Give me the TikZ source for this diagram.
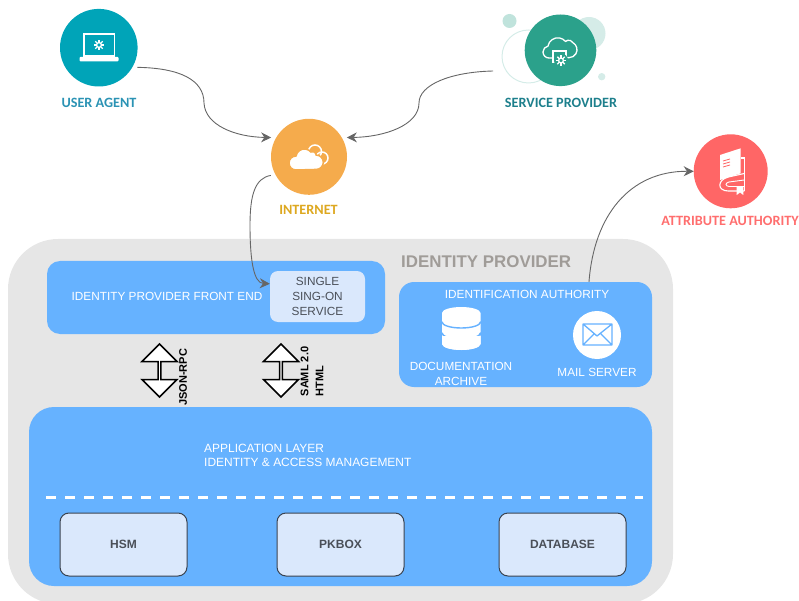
\documentclass[tikz,border=0pt]{standalone}
\usepackage{fontspec}
\setmainfont{Liberation Sans}
\newfontfamily\capfont{Carlito}
\usetikzlibrary{arrows.meta,shapes.arrows}
\definecolor{panelgray}{HTML}{E6E6E6}
\definecolor{layerblue}{HTML}{66B2FF}
\definecolor{paleblue}{HTML}{DAE8FC}
\definecolor{teal1}{HTML}{00A4B8}
\definecolor{amber1}{HTML}{F5AB4C}
\definecolor{green1}{HTML}{2BA18B}
\definecolor{red1}{HTML}{FF6666}
\definecolor{darktext}{HTML}{4A4F58}
\definecolor{titlegray}{HTML}{A09C98}
\definecolor{edgedark}{HTML}{3A4350}
\definecolor{agenttext}{HTML}{2B93B4}
\definecolor{providertext}{HTML}{1D7F8C}
\definecolor{nettext}{HTML}{DDA820}
\tikzset{
  hub/.style={circle,inner sep=0pt,outer sep=4.5pt,minimum size=#1},
  caption/.style={font=\capfont\bfseries\fontsize{14.2}{16}\selectfont},
  layerbox/.style={rounded corners=#1,fill=layerblue,draw=none,inner sep=0pt},
  whitetext/.style={text=white,font=\fontsize{11.8}{15}\selectfont,align=center,inner sep=0pt},
  modulebox/.style={rounded corners=9pt,fill=paleblue,draw=edgedark,line width=1pt,inner sep=0pt,
    minimum width=127pt,minimum height=63pt,text=darktext,font=\bfseries\fontsize{12}{14}\selectfont},
  updown/.style={double arrow,draw=black,fill=white,line width=1.5pt,rotate=90,inner sep=0pt,
    minimum height=53pt,minimum width=35pt,double arrow head extend=9pt},
  sidetext/.style={rotate=90,font=\bfseries\fontsize{11}{15}\selectfont,align=left,inner sep=0pt},
  link/.style={draw=black!60,line width=0.9pt},
  linkarrow/.style={link,-{Stealth[length=10pt,width=10pt]}}
}
\newcommand{\gearmark}[3]{%
  \foreach \a in {0,45,...,315} {\draw[#3,line width=1.4pt] (#1,#2) ++(\a:2.6pt) -- ++(\a:2.6pt);}
  \draw[#3,line width=1.3pt] (#1,#2) circle (2.4pt);
}
\begin{document}
\begin{tikzpicture}[x=1pt,y=-1pt]
  \clip (0,0) rectangle (799,601);
  %outer panel
  \node[rounded corners=50pt,fill=panelgray,inner sep=0pt,minimum width=665pt,minimum height=365pt] (idp) at (340.5,421.5) {};
  \node[anchor=west,inner sep=0pt,text=titlegray,font=\bfseries\fontsize{16.9}{18}\selectfont] (idptitle) at (401,261.6) {IDENTITY PROVIDER};
  %top circles
  \fill[green1!30!white] (509.5,21) circle (7);
  \fill[green1!20!white] (589,33.5) circle (16.5);
  \fill[green1!20!white] (601.7,76.7) circle (3.7);
  \draw[green1!20!white,line width=1pt] (528.5,56.5) circle (26.5);
  \node[hub=77.6pt,fill=teal1] (useragent) at (98.8,47.7) {};
  \node[hub=71.6pt,fill=green1] (provider) at (560.5,50.3) {};
  \node[hub=76pt,fill=amber1] (internet) at (309,156.8) {};
  \node[hub=74pt,fill=red1,outer sep=0pt] (authority) at (730.7,171.3) {};
  \node[caption,text=agenttext] (useragentlabel) at (99,102.7) {USER AGENT};
  \node[caption,text=providertext] (providerlabel) at (561,102.7) {SERVICE PROVIDER};
  \node[caption,text=nettext] (internetlabel) at (308.5,210.3) {INTERNET};
  \node[caption,text=red1!95!white] (authoritylabel) at (730,220.8) {ATTRIBUTE AUTHORITY};
  %laptop
  \draw[white,line width=1.3pt] (84,34) rectangle (114.5,56);
  \fill[white,rounded corners=1pt] (79.5,57) rectangle (118.5,61.5);
  \gearmark{99}{45}{white}
  %cloud on internet
  \draw[white,fill=amber1,line width=1.5pt] (315,151.5) circle (6.5) (322,158) circle (6);
  \draw[amber1,fill=white,line width=1.5pt] (296,170) arc (270:90:7pt) arc (170:40:8.5pt) arc (120:0:3.5pt) arc (90:-90:7.2pt) -- cycle;
  %cloud on service provider
  \draw[white,line width=1.3pt] (552,58) -- (549,58) arc (270:100:6pt) arc (170:40:10pt) arc (130:30:5pt) arc (60:-90:8pt) -- (566,57.5);
  \draw[white,fill=green1,line width=1.2pt] (553,51) rectangle (566,62);
  \fill[green1] (561,60.5) circle (7);
  \gearmark{561}{60.5}{white}
  %book
  \draw[white,line width=1.1pt] (740.7,158) -- (744.3,158) -- (744.3,191);
  \draw[white,line width=1.1pt] (744.3,173.5) -- (728.3,177) .. controls (717,180) and (717,191) .. (728.3,191) -- (744.3,191);
  \draw[white,line width=0.9pt] (744.3,180) -- (729,182) .. controls (725,183) and (725,186) .. (729,186.5) -- (744.3,186.5);
  \fill[white] (720,155) -- (740.7,148.3) -- (740.7,173.3) -- (720,180) -- cycle;
  \foreach \yy in {161,164,167} {\draw[red1,line width=0.8pt] (723,\yy) -- (730,\yy-2);}
  \fill[white] (736.7,186.7) -- (743.3,186.7) -- (743.3,195) -- (740,192.5) -- (736.7,195) -- cycle;
  %front end
  \node[layerbox=13pt,minimum width=338pt,minimum height=73pt] (frontend) at (216,297.5) {};
  \node[whitetext] (frontendlabel) at (167,296.7) {IDENTITY PROVIDER FRONT END};
  \node[rounded corners=8pt,fill=paleblue,inner sep=0pt,minimum width=95pt,minimum height=51pt,text=darktext,
    align=center,font=\fontsize{11.8}{15}\selectfont] (sso) at (317.5,296.5) {SINGLE\\SING-ON\\SERVICE};
  %identification authority
  \node[layerbox=15pt,minimum width=253pt,minimum height=105pt] (idauth) at (525.5,334.5) {};
  \node[whitetext] (idauthlabel) at (527,294.7) {IDENTIFICATION AUTHORITY};
  \node[whitetext] (archivelabel) at (461,374) {DOCUMENTATION\\ARCHIVE};
  \node[whitetext] (maillabel) at (597,372.5) {MAIL SERVER};
  %database icon
  \foreach \yy in {336,324,313} {
    \fill[white] (442,\yy) -- (442,\yy+8) arc (180:360:19.25pt and 6pt) -- (480.5,\yy) arc (0:180:19.25pt and 6pt) -- cycle;
    \draw[layerblue,line width=1.4pt] (442,\yy+9) arc (180:360:19.25pt and 6pt);
  }
  \fill[white] (442,336) -- (442,344) arc (180:360:19.25pt and 6pt) -- (480.5,336) -- cycle;
  %mail icon
  \node[circle,fill=white,inner sep=0pt,minimum size=48pt] (mailicon) at (597,335) {};
  \draw[layerblue,line width=1.3pt,line join=round] (583,324) rectangle (612,345) (583,324) -- (597,336) -- (612,324) (583,345) -- (594,334) (612,345) -- (601,334);
  %application layer
  \node[layerbox=25pt,minimum width=623pt,minimum height=179pt] (applayer) at (340.5,496.5) {};
  \node[text=white,font=\fontsize{11.95}{14.5}\selectfont,align=left,anchor=west,inner sep=0pt] (applabel) at (204,455.3) {APPLICATION LAYER\\IDENTITY \& ACCESS MANAGEMENT};
  \coordinate (dashstart) at (46,497);
  \coordinate (dashend) at (643,497);
  \draw[white,line width=3pt,dash pattern=on 10pt off 9pt] (dashstart) -- (dashend);
  \node[modulebox] (hsm) at (123.5,544.5) {HSM};
  \node[modulebox] (pkbox) at (340.5,544.5) {PKBOX};
  \node[modulebox] (database) at (562.5,544.5) {DATABASE};
  %double arrows
  \node[updown] (jsonarrow) at (159.5,370.5) {};
  \node[updown] (samlarrow) at (281,370.5) {};
  \node[sidetext,anchor=north west] (jsonlabel) at (179,406) {JSON-RPC};
  \node[sidetext,anchor=north west] (samllabel) at (300.5,396.5) {SAML 2.0\\HTML};
  %connectors
  \coordinate (providerout) at (493,71);
  \coordinate (ssoin) at ([yshift=-13pt]sso.north west);
  \coordinate (idauthout) at ([xshift=63.5pt]idauth.north);
  \draw[linkarrow] (useragent.-27) .. controls (180,68) and (204,80) .. (204,103) .. controls (205,125) and (235,137) .. (internet.153);
  \draw[linkarrow] (providerout) .. controls (450,72) and (419,85) .. (419,103) .. controls (419,125) and (385,137) .. (internet.27);
  \draw[linkarrow] (internet.206) .. controls (255,178) and (250,195) .. (250,225) .. controls (250,262) and (254,283) .. (ssoin);
  \draw[linkarrow] (idauthout) .. controls (594,215) and (630,171) .. (authority.west);
\end{tikzpicture}
\end{document}
